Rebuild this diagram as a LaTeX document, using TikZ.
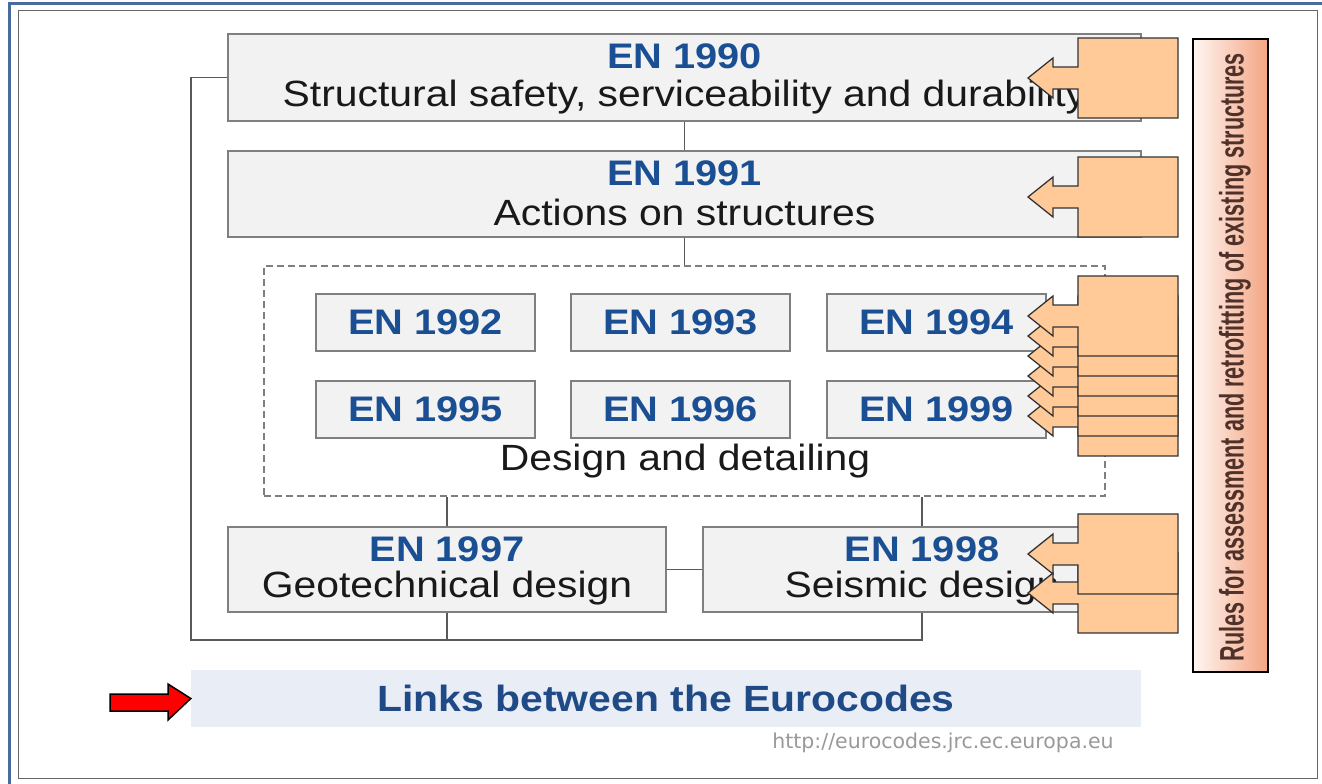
\documentclass[tikz,border=0pt]{standalone}
\usepackage{graphicx}
\usepackage{fontspec}
\setmainfont{Liberation Sans}[FakeStretch=1.12]
\newfontfamily\urlfont{DejaVu Sans}

\definecolor{enblue}{HTML}{1B4F94}
\definecolor{linkblue}{HTML}{1F4A85}
\definecolor{boxgray}{HTML}{F2F2F2}
\definecolor{linegray}{HTML}{7F7F7F}
\definecolor{peach}{HTML}{FFCA98}
\definecolor{linkband}{HTML}{E9EDF6}
\definecolor{frameblue}{HTML}{4A6B9E}
\definecolor{rulesbrown}{HTML}{4F3129}
\definecolor{rulesleft}{HTML}{FFF6F2}
\definecolor{rulesright}{HTML}{F3A482}

\newcommand\descfont{\fontsize{36.5}{40}\selectfont}
\newcommand\enfont{\fontsize{35.5}{40}\selectfont\bfseries}

\tikzset{
  rulearrow/.pic={
    \draw[callout] (1078,0) -- (1178,0) -- (1178,80) -- (1078,80) -- (1078,51)
      -- (1053,51) -- (1053,60) -- (1028,40) -- (1053,20) -- (1053,29) -- (1078,29) -- cycle;
  }
}

\begin{document}
\begin{tikzpicture}[x=1pt,y=-1pt,
    enbox/.style={draw=linegray, fill=boxgray, line width=1.2pt, inner sep=0pt},
    entitle/.style={font=\enfont, text=enblue, inner sep=0pt},
    endesc/.style={font=\descfont, text=black!90, inner sep=0pt},
    link/.style={draw=black!65, line width=1.2pt},
    callout/.style={fill=peach, draw=black!80, line width=1.3pt, line join=miter}]
    \useasboundingbox (0,0) rectangle (1322,784);

    % Frames
    \draw[frameblue, line width=3pt] (9,790) -- (9,4) -- (1330,4);
    \draw[black!60, line width=1pt] (18.5,11) rectangle (1317,778);

    % EN 1990 and EN 1991
    \node[enbox, minimum width=913pt, minimum height=87pt] (en1990) at (684.5,77.5) {};
    \node[entitle] (t1990) at (684.5,56) {EN 1990};
    \node[endesc] (d1990) at (684.5,97) {Structural safety, serviceability and durability};

    \node[enbox, minimum width=913pt, minimum height=86pt] (en1991) at (684.5,194) {};
    \node[entitle] (t1991) at (684.5,173) {EN 1991};
    \node[endesc] (d1991) at (684.5,212) {Actions on structures};

    % Design and detailing
    \node[draw=linegray, dashed, dash pattern=on 7pt off 4pt, line width=1.2pt,
          minimum width=841pt, minimum height=230pt] (design) at (684.5,381) {};
    \foreach \n/\x/\y in {1992/425.5/322.5, 1993/680.5/322.5, 1994/936.5/322.5,
                          1995/425.5/409.5, 1996/680.5/409.5, 1999/936.5/409.5}
        \node[enbox, entitle, minimum width=219pt, minimum height=57pt] (en\n) at (\x,\y) {EN \n};
    \node[endesc] (ddesign) at (685,461) {Design and detailing};

    % EN 1997 and EN 1998
    \node[enbox, minimum width=438pt, minimum height=85pt] (en1997) at (447,569.5) {};
    \node[entitle] (t1997) at (447,549) {EN 1997};
    \node[endesc] (d1997) at (447,588) {Geotechnical design};

    \node[enbox, minimum width=438pt, minimum height=85pt] (en1998) at (922,569.5) {};
    \node[entitle] (t1998) at (922,549) {EN 1998};
    \node[endesc] (d1998) at (922,588) {Seismic design};

    % Links
    \coordinate (corner) at (191,640);
    \draw[link] (en1990) -- (en1991);
    \draw[link] (en1991) -- (design);
    \draw[link] (en1997.north) -- (en1997.north |- design.south);
    \draw[link] (en1998.north) -- (en1998.north |- design.south);
    \draw[link] (en1997) -- (en1998);
    \draw[link] (en1990.west) -| (corner) -| (en1998.south);
    \draw[link] (en1997.south) -- (en1997.south |- corner);

    % Callouts
    \pic at (0,38) {rulearrow};
    \pic at (0,157) {rulearrow};
    \foreach \i in {5,...,0}
        \pic at (0,{276+20*\i}) {rulearrow};
    \pic at (0,553) {rulearrow};
    \pic at (0,514) {rulearrow};

    % Rules for existing structures
    \node[draw=black, line width=1.6pt, left color=rulesleft, right color=rulesright,
          minimum width=75pt, minimum height=633pt] (rules) at (1230.5,355.5) {};
    \node[rotate=90, text=rulesbrown, inner sep=0pt] (rulestext) at (1235,357)
        {\resizebox{608pt}{\height}{\fontsize{34}{34}\selectfont\bfseries Rules for assessment and retrofitting of existing structures}};

    % Title band
    \node[fill=linkband, minimum width=950pt, minimum height=57pt, text=linkblue,
          font=\fontsize{36.5}{40}\selectfont\bfseries] (links) at (666,698.5) {Links between the Eurocodes};
    \draw[fill=red, line width=1.5pt, line join=miter] (110,694) -- (168,694) -- (168,684)
        -- (links.west) -- (168,720) -- (168,711) -- (110,711) -- cycle;
    \node[font=\urlfont\fontsize{20.5}{24}\selectfont, text=black!40] (url) at (943,743) {http://eurocodes.jrc.ec.europa.eu};
\end{tikzpicture}
\end{document}
